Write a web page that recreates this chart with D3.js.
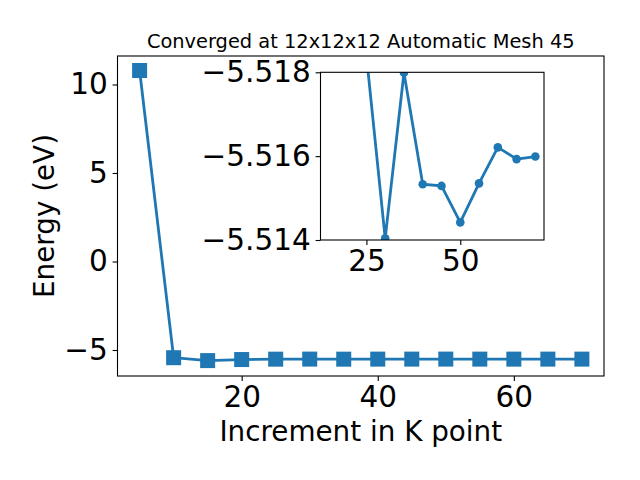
<!DOCTYPE html>
<html><head><meta charset="utf-8">
<script src="https://cdn.jsdelivr.net/npm/d3@7"></script>
<style>
body{margin:0;background:#fff;}
svg{font-family:"DejaVu Sans",sans-serif;}
</style></head>
<body><svg id="c" width="640" height="480"></svg>
<script>
const kpoints = [5,10,15,20,25,30,35,40,45,50,55,60,65,70];
const energies = [10.79,-5.436,-5.60,-5.54,-5.5184,-5.51404,-5.51799,-5.51533,-5.51529,-5.51442,-5.51535,-5.51621,-5.51593,-5.51599];
const mainXTicks = [20,40,60];
const mainYTicks = [-5,0,5,10];
const insetXTicks = [25,50];
const insetYTicks = [-5.518,-5.516,-5.514];
const titleText = "Converged at 12x12x12 Automatic Mesh 45";
const xLabel = "Increment in K point";
const yLabel = "Energy (eV)";

const color = "#1f77b4";
const tickFont = 29.5;
const svg = d3.select("#c");
const data = kpoints.map((k,i)=>({x:k,y:energies[i]}));
const fmtMinus = s => String(s).replace("-", "\u2212");

// main axes
const M = {l:117.5,r:604,t:56,b:376};
const xd = d3.extent(kpoints), xp=(xd[1]-xd[0])*0.05;
const yd = d3.extent(energies), yp=(yd[1]-yd[0])*0.05;
const x = d3.scaleLinear().domain([xd[0]-xp, xd[1]+xp]).range([M.l,M.r]);
const y = d3.scaleLinear().domain([yd[0]-yp-0.05, yd[1]+yp]).range([M.b,M.t]);

const line = d3.line().x(d=>x(d.x)).y(d=>y(d.y));
svg.append("path").datum(data).attr("d",line).attr("fill","none").attr("stroke",color).attr("stroke-width",2.8).attr("stroke-linejoin","round");
svg.selectAll("rect.m").data(data).join("rect").attr("class","m")
  .attr("x",d=>x(d.x)-7.5).attr("y",d=>y(d.y)-7.5).attr("width",15).attr("height",15).attr("fill",color);

svg.append("rect").attr("x",M.l).attr("y",M.t).attr("width",M.r-M.l).attr("height",M.b-M.t)
  .attr("fill","none").attr("stroke","#000").attr("stroke-width",1.1);

const gx = svg.append("g").attr("transform",`translate(0,${M.b})`)
  .call(d3.axisBottom(x).tickValues(mainXTicks).tickSize(4.9).tickPadding(4.9).tickFormat(d=>fmtMinus(d)));
const gy = svg.append("g").attr("transform",`translate(${M.l},0)`)
  .call(d3.axisLeft(y).tickValues(mainYTicks).tickSize(4.9).tickPadding(4.9).tickFormat(d=>fmtMinus(d)));
[gx,gy].forEach(g=>{g.select(".domain").remove();g.selectAll("line").attr("stroke","#000").attr("stroke-width",1.1);
  g.selectAll("text").attr("font-size",tickFont).attr("font-family","DejaVu Sans").attr("fill","#000");});

svg.append("text").attr("x",(M.l+M.r)/2).attr("y",441).attr("text-anchor","middle")
  .attr("font-size",27.8).text(xLabel);
svg.append("text").attr("transform",`translate(54,${(M.t+M.b)/2}) rotate(-90)`).attr("text-anchor","middle")
  .attr("font-size",27.8).text(yLabel);
svg.append("text").attr("x",(M.l+M.r)/2).attr("y",48).attr("text-anchor","middle")
  .attr("font-size",19.4).text(titleText);

// inset
const I = {l:320.5,r:544,t:72.3,b:240};
const xi = d3.scaleLinear().domain([12.77,72.3]).range([I.l,I.r]);
const yi = d3.scaleLinear().domain([-5.514,-5.518]).range([I.b,I.t]);
svg.append("clipPath").attr("id","ic").append("rect")
  .attr("x",I.l).attr("y",I.t).attr("width",I.r-I.l).attr("height",I.b-I.t);
svg.append("rect").attr("x",I.l).attr("y",I.t).attr("width",I.r-I.l).attr("height",I.b-I.t).attr("fill","#fff");
const gi = svg.append("g").attr("clip-path","url(#ic)");
const linei = d3.line().x(d=>xi(d.x)).y(d=>yi(d.y));
gi.append("path").datum(data).attr("d",linei).attr("fill","none").attr("stroke",color).attr("stroke-width",2.8).attr("stroke-linejoin","round");
gi.selectAll("circle").data(data).join("circle").attr("cx",d=>xi(d.x)).attr("cy",d=>yi(d.y)).attr("r",4.3).attr("fill",color);
svg.append("rect").attr("x",I.l).attr("y",I.t).attr("width",I.r-I.l).attr("height",I.b-I.t)
  .attr("fill","none").attr("stroke","#000").attr("stroke-width",1.1);
const gxi = svg.append("g").attr("transform",`translate(0,${I.b})`)
  .call(d3.axisBottom(xi).tickValues(insetXTicks).tickSize(4.9).tickPadding(4.9).tickFormat(d=>fmtMinus(d)));
const gyi = svg.append("g").attr("transform",`translate(${I.l},0)`)
  .call(d3.axisLeft(yi).tickValues(insetYTicks).tickSize(4.9).tickPadding(4.9).tickFormat(d=>fmtMinus(d3.format(".3f")(d))));
[gxi,gyi].forEach(g=>{g.select(".domain").remove();g.selectAll("line").attr("stroke","#000").attr("stroke-width",1.1);
  g.selectAll("text").attr("font-size",tickFont).attr("font-family","DejaVu Sans").attr("fill","#000");});
</script></body></html>
